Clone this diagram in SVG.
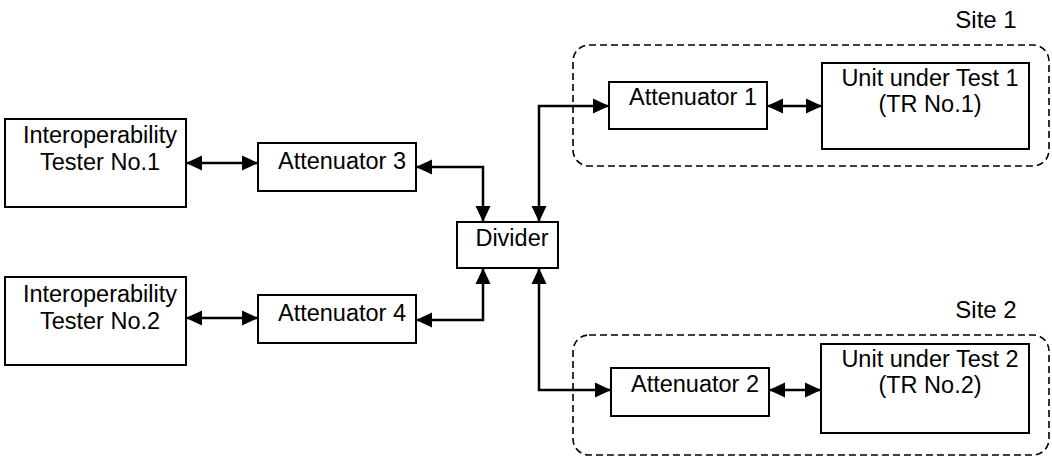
<svg xmlns="http://www.w3.org/2000/svg" width="1052" height="458" viewBox="0 0 1052 458">
<style>
.box{fill:#fff;stroke:#000;stroke-width:2}
.site{fill:none;stroke:#000;stroke-width:1.6;stroke-dasharray:7 4}
.t{font-family:"Liberation Sans",Arial,sans-serif;font-size:23.5px;fill:#000;text-anchor:middle}
.s{font-family:"Liberation Sans",Arial,sans-serif;font-size:24px;fill:#000;text-anchor:middle}
.c{fill:none;stroke:#000;stroke-width:2.5;marker-start:url(#ah);marker-end:url(#ah)}
</style>
<defs>
<marker id="ah" markerUnits="userSpaceOnUse" markerWidth="17" markerHeight="16" refX="16" refY="8" orient="auto-start-reverse">
<path d="M0,0.5 L16,8 L0,15.5 z" fill="#000"/>
</marker>
</defs>
<rect width="1052" height="458" fill="#fff"/>
<g id="site1">
<rect class="site" x="573" y="45" width="476" height="121" rx="16" ry="16"/>
<text class="s" x="986" y="28">Site 1</text>
</g>
<g id="site2">
<rect class="site" x="573" y="335" width="476" height="120" rx="16" ry="16"/>
<text class="s" x="986" y="318">Site 2</text>
</g>
<g id="connectors">
<path class="c" d="M186,163 L258,163"/>
<path class="c" d="M186,318 L258,318"/>
<path class="c" d="M416,167 L483,167 L483,222"/>
<path class="c" d="M416,320 L483,320 L483,268"/>
<path class="c" d="M539,222 L539,106 L609,106"/>
<path class="c" d="M539,268 L539,390 L611,390"/>
<path class="c" d="M767,106 L822,106"/>
<path class="c" d="M769,390 L821,390"/>
</g>
<g id="tester1">
<rect class="box" x="5" y="119" width="181" height="88"/>
<text class="t" x="100" y="143">Interoperability</text>
<text class="t" x="100" y="170">Tester No.1</text>
</g>
<g id="tester2">
<rect class="box" x="5" y="277" width="181" height="88"/>
<text class="t" x="100" y="302">Interoperability</text>
<text class="t" x="100" y="329">Tester No.2</text>
</g>
<g id="att3">
<rect class="box" x="258" y="143" width="158" height="48"/>
<text class="t" x="342" y="169">Attenuator 3</text>
</g>
<g id="att4">
<rect class="box" x="258" y="295" width="158" height="48"/>
<text class="t" x="342" y="321">Attenuator 4</text>
</g>
<g id="divider">
<rect class="box" x="457" y="222" width="101" height="46"/>
<text class="t" x="512" y="246">Divider</text>
</g>
<g id="att1">
<rect class="box" x="609" y="82" width="158" height="47"/>
<text class="t" x="693" y="105">Attenuator 1</text>
</g>
<g id="att2">
<rect class="box" x="611" y="368" width="158" height="48"/>
<text class="t" x="695" y="392">Attenuator 2</text>
</g>
<g id="uut1">
<rect class="box" x="822" y="63" width="207" height="86"/>
<text class="t" x="930" y="86">Unit under Test 1</text>
<text class="t" x="930" y="112">(TR No.1)</text>
</g>
<g id="uut2">
<rect class="box" x="821" y="344" width="208" height="89"/>
<text class="t" x="930" y="367">Unit under Test 2</text>
<text class="t" x="930" y="393">(TR No.2)</text>
</g>
</svg>
